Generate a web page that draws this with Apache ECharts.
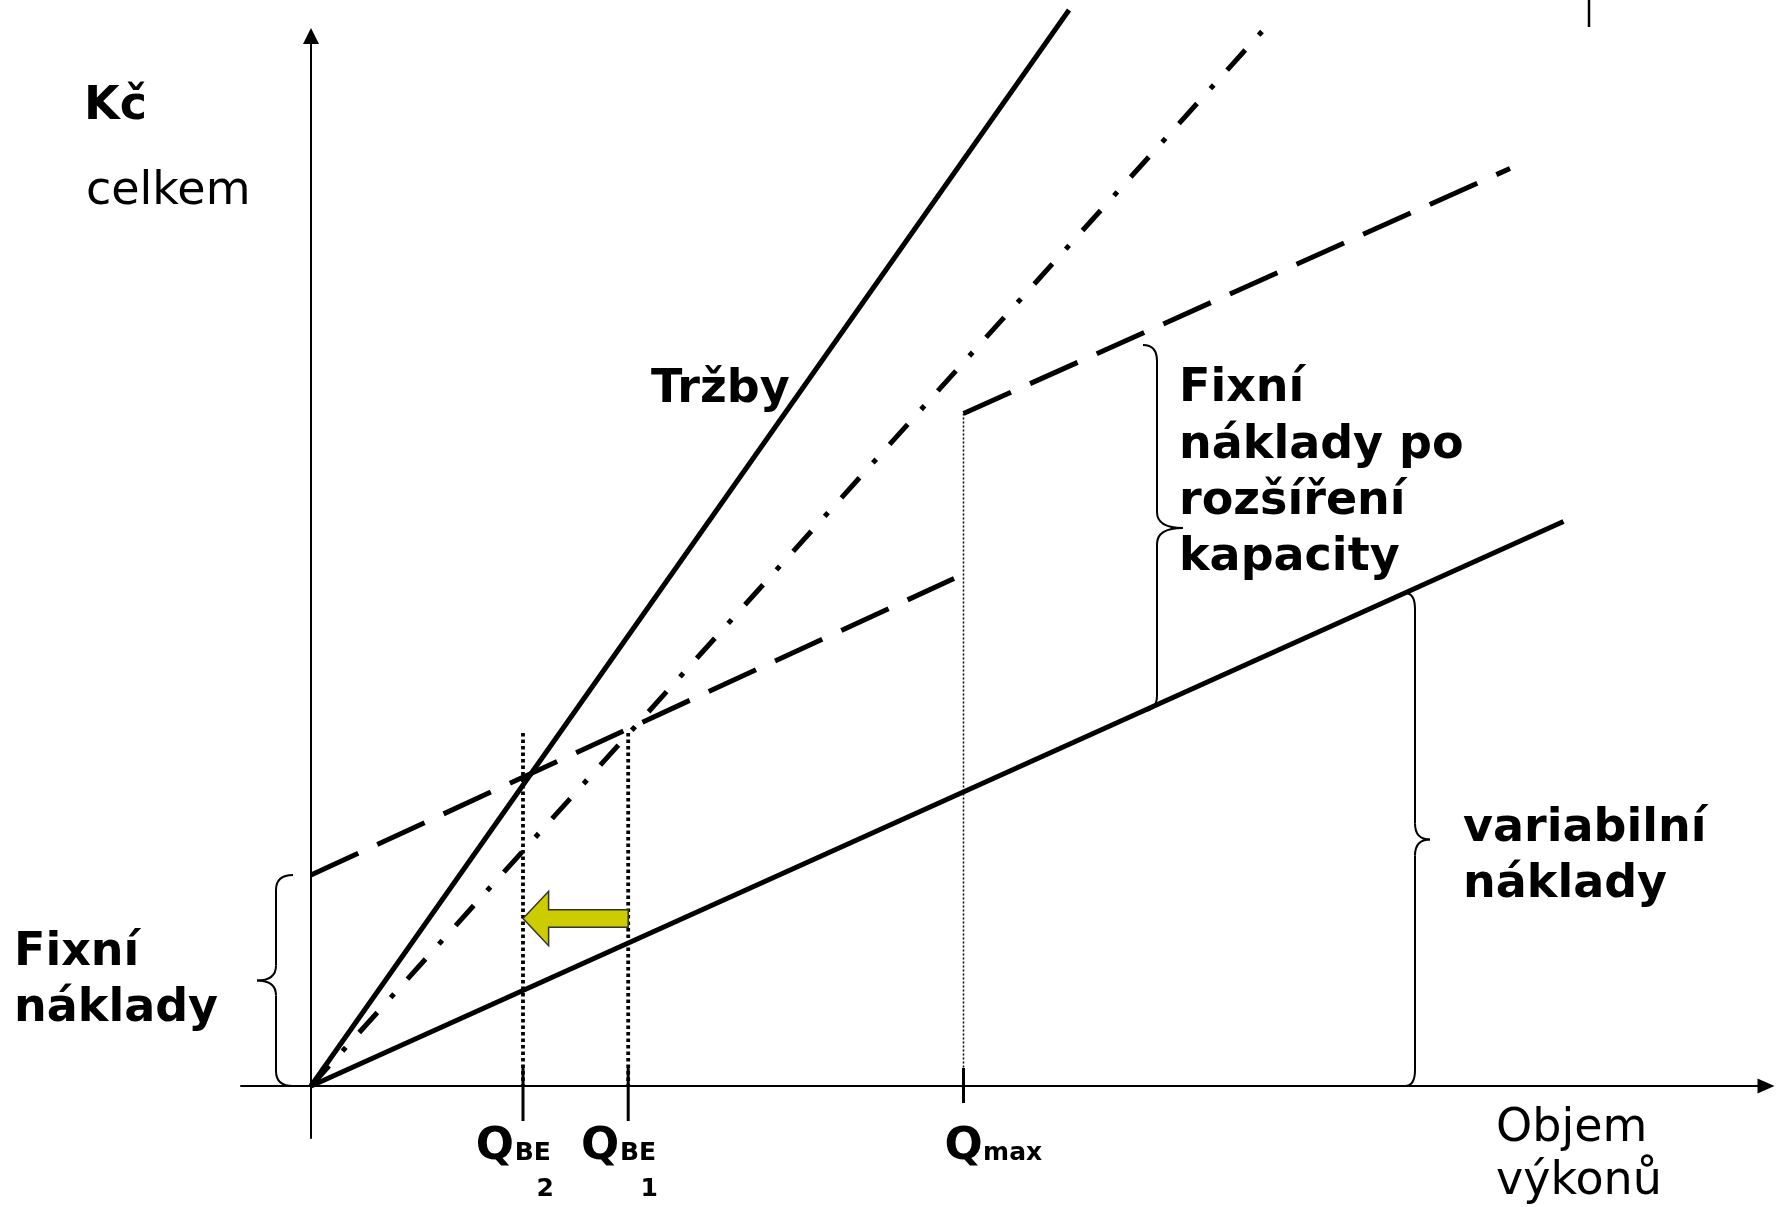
<!DOCTYPE html>
<html><head><meta charset="utf-8">
<script src="https://cdn.jsdelivr.net/npm/echarts@6/dist/echarts.min.js"></script>
<style>html,body{margin:0;padding:0;background:#fff}#c{width:1786px;height:1207px}</style>
</head><body><div id="c"></div>
<script>
// ---- values (x: objem výkonů, y: Kč) ----
const trzby = [[0, 0], [15.16, 21.52]];
const trzbyPuvodni = [[0, 0], [19.2, 21.29]];
const nakladyPred = [[0, 4.22], [12.86, 10.15]];
const nakladyPo = [[13.05, 13.45], [23.98, 18.35]];
const variabilniNaklady = [[0, 0], [25.05, 11.29]];
const qTicks = [4.24, 6.344, 13.05];
const qMain = ['Q', 'Q', 'Q'];
const qSub = ['BE', 'BE', 'max'];
const qIndex = ['2', '1', ''];
const guideTops = [7.06, 7.06, 13.45];
const tickTops = [0.36, 0.36, 0.36];
const tickBottoms = [-0.7, -0.7, -0.34];
const braces = [[-0.36, 0, 4.22], [16.64, 7.5, 14.82], [21.88, 0, 9.86]];
const shiftArrow = [[6.344, 4.24, 3.35]];
const edgeMark = [[25.56, 21.72], [25.56, 21.18]];

// ---- styles / layout (px) ----
const FONT = '"DejaVu Sans", Verdana, sans-serif';
const braceGeom = [{spine: -17, tip: -36, r: 15}, {spine: 14, tip: 40, r: 16}, {spine: 10, tip: 25, r: 16}];
const qOffsets = [
  {main: [-47.3, 38.8], sub: [-8.3, 54.8], idx: [13.5, 90.8]},
  {main: [-47.3, 38.8], sub: [-8.3, 54.8], idx: [12.4, 90.8]},
  {main: [-18.9, 38.8], sub: [19.6, 54.8], idx: [0, 90.8]}
];

function lineSeries(data, width, type, extra) {
  return Object.assign({
    type: 'line', data: data, showSymbol: false, symbol: 'none', silent: true, clip: false,
    lineStyle: {color: '#000', width: width, type: type || 'solid', cap: 'butt'}, z: 3
  }, extra || {});
}

const series = [];
series.push(lineSeries(variabilniNaklady, 5));
series.push(lineSeries(nakladyPred, 5, [52, 21]));
series.push(lineSeries(nakladyPo, 5, [52, 21]));
series.push(lineSeries(trzbyPuvodni, 5, [27, 20, 5, 20]));
series.push(lineSeries(trzby, 5));
qTicks.forEach(function (q, i) {
  const thin = i === 2;
  series.push(lineSeries([[q, guideTops[i]], [q, 0]], thin ? 1.5 : 3.8, thin ? [2, 2] : [3.5, 3], {z: 2}));
  series.push(lineSeries([[q, tickTops[i]], [q, tickBottoms[i]]], 3));
});
series.push(lineSeries(edgeMark, 2.5));

// braces
series.push({
  type: 'custom', coordinateSystem: 'cartesian2d', silent: true, clip: false, z: 4,
  data: braces,
  renderItem: function (params, api) {
    const g = braceGeom[params.dataIndex];
    const pB = api.coord([api.value(0), api.value(1)]);
    const pT = api.coord([api.value(0), api.value(2)]);
    const xe = pB[0], xs = xe + g.spine, xt = xe + g.tip;
    const yT = pT[1], yB = pB[1], yM = (yT + yB) / 2, r = g.r;
    const st = {stroke: '#000', lineWidth: 2, fill: null};
    return {
      type: 'group', children: [
        {type: 'bezierCurve', shape: {x1: xe, y1: yT, cpx1: xs, cpy1: yT, x2: xs, y2: yT + r}, style: st},
        {type: 'line', shape: {x1: xs, y1: yT + r, x2: xs, y2: yM - r}, style: st},
        {type: 'bezierCurve', shape: {x1: xs, y1: yM - r, cpx1: xs, cpy1: yM, x2: xt, y2: yM}, style: st},
        {type: 'bezierCurve', shape: {x1: xt, y1: yM, cpx1: xs, cpy1: yM, x2: xs, y2: yM + r}, style: st},
        {type: 'line', shape: {x1: xs, y1: yM + r, x2: xs, y2: yB - r}, style: st},
        {type: 'bezierCurve', shape: {x1: xs, y1: yB - r, cpx1: xs, cpy1: yB, x2: xe, y2: yB}, style: st}
      ]
    };
  }
});

// yellow shift arrow
series.push({
  type: 'custom', coordinateSystem: 'cartesian2d', silent: true, clip: false, z: 5,
  data: shiftArrow,
  renderItem: function (params, api) {
    const tail = api.coord([api.value(0), api.value(2)]);
    const tip = api.coord([api.value(1), api.value(2)]);
    const hl = 25.6, hh = 27.2, bh = 8.85, tx = tip[0], ty = tip[1];
    return {
      type: 'polygon',
      shape: {points: [[tx, ty], [tx + hl, ty - hh], [tx + hl, ty - bh], [tail[0], ty - bh],
        [tail[0], ty + bh], [tx + hl, ty + bh], [tx + hl, ty + hh]]},
      style: {fill: '#CCCC00', stroke: '#333', lineWidth: 1.5}
    };
  }
});

// Q labels on the x axis
const labelItems = [];
qTicks.forEach(function (q, i) {
  const o = qOffsets[i];
  labelItems.push({value: [q, 0], label: {formatter: qMain[i], fontSize: 45, lineHeight: 45, offset: o.main}});
  labelItems.push({value: [q, 0], label: {formatter: qSub[i], fontSize: 25, lineHeight: 25, offset: o.sub}});
  if (qIndex[i]) labelItems.push({value: [q, 0], label: {formatter: qIndex[i], fontSize: 25, lineHeight: 25, offset: o.idx}});
});
series.push({
  type: 'scatter', symbolSize: 1, silent: true, z: 6,
  itemStyle: {color: 'rgba(0,0,0,0)'},
  label: {show: true, position: [0.5, 0.5], align: 'left', verticalAlign: 'top', color: '#000',
    opacity: 1, textBorderWidth: 0, fontFamily: FONT, fontWeight: 'bold'},
  data: labelItems
});

function txt(text, x, y, size, bold, lh) {
  const font = (bold ? 'bold ' : '') + size + 'px ' + FONT;
  return {type: 'text', x: x, y: y, z: 10, silent: true,
    style: {text: text, font: font, fill: '#000', align: 'left', textAlign: 'left',
      verticalAlign: 'top', textVerticalAlign: 'top', lineHeight: lh || size}};
}

const chart = echarts.init(document.getElementById('c'), null, {renderer: 'canvas'});
chart.setOption({
  animation: false,
  backgroundColor: '#fff',
  grid: {left: 241, right: 20, top: 36, bottom: 69, containLabel: false},
  xAxis: {
    type: 'value', min: -1.4, max: 29.1,
    axisLine: {onZero: true, symbol: ['none', 'triangle'], symbolSize: [15, 17], lineStyle: {color: '#000', width: 2}},
    axisTick: {show: false}, axisLabel: {show: false}, splitLine: {show: false}
  },
  yAxis: {
    type: 'value', min: -1.04, max: 21,
    axisLine: {onZero: true, symbol: ['none', 'triangle'], symbolSize: [16, 16], lineStyle: {color: '#000', width: 2}},
    axisTick: {show: false}, axisLabel: {show: false}, splitLine: {show: false}
  },
  series: series,
  graphic: [
    txt('Kč', 84, 84.3, 46, true),
    txt('celkem', 86, 169.3, 46, false),
    txt('Tržby', 651, 367.3, 46, true),
    txt('Fixní\nnáklady po\nrozšíření\nkapacity', 1179, 361.2, 46, true, 56.3),
    txt('variabilní\nnáklady', 1463, 801.3, 46, true, 56),
    txt('Fixní\nnáklady', 14, 925.3, 46, true, 56),
    txt('Objem\nvýkonů', 1496, 1102.8, 46, false, 53)
  ]
});
</script>
</body></html>
